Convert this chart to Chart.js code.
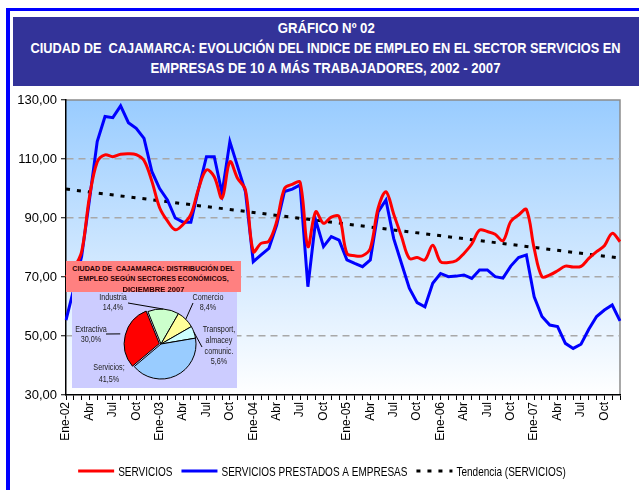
<!DOCTYPE html>
<html>
<head>
<meta charset="utf-8">
<script src="https://cdn.jsdelivr.net/npm/chart.js@4.4.0/dist/chart.umd.min.js"></script>
<style>
body{margin:0;background:#fff;width:639px;height:490px;overflow:hidden;position:relative;font-family:"Liberation Sans",Arial,sans-serif}
#frameTop{position:absolute;left:6px;top:8px;width:633px;height:3px;background:#0000ff}
#frameLeft{position:absolute;left:6px;top:8px;width:4px;height:482px;background:#0000ff}
#banner{position:absolute;left:13px;top:17px;width:626px;height:69px;padding-top:1px;box-sizing:border-box;background:#333399;color:#fff;
  font:bold 15px "Liberation Sans",Arial,sans-serif;line-height:20px}
#banner div, #insetTitle div{white-space:nowrap;display:flex;justify-content:center}
#banner span, #insetTitle span{display:inline-block;flex:none;transform-origin:50% 50%}
#main{position:absolute;left:0;top:0}
#insetTitle{position:absolute;left:66px;top:261px;width:175px;height:31px;background:#ff8080;color:#2a0000;
  font:bold 7px "Liberation Sans",Arial,sans-serif;line-height:10.3px;padding-top:3px;box-sizing:border-box}
#insetBox{position:absolute;left:72px;top:292px;width:165px;height:96px;background:#ccccff}
</style>
</head>
<body>
<div id="frameTop"></div>
<div id="frameLeft"></div>
<div id="banner">
  <div><span data-w="97">GRÁFICO Nº 02</span></div>
  <div><span data-w="590">CIUDAD DE&nbsp; CAJAMARCA: EVOLUCIÓN DEL INDICE DE EMPLEO EN EL SECTOR SERVICIOS EN</span></div>
  <div><span data-w="350">EMPRESAS DE 10 A MÁS TRABAJADORES, 2002 - 2007</span></div>
</div>
<canvas id="main" width="639" height="490"></canvas>
<div id="insetTitle">
  <div><span data-w="162">CIUDAD DE&nbsp; CAJAMARCA: DISTRIBUCIÓN DEL</span></div>
  <div><span data-w="150">EMPLEO SEGÚN SECTORES ECONÓMICOS,</span></div>
  <div><span data-w="62">DICIEMBRE 2007</span></div>
</div>
<div id="insetBox"><canvas id="pie" width="165" height="96"></canvas></div>
<script>
// meses y años del eje
const months = ['Ene','Feb','Mar','Abr','May','Jun','Jul','Ago','Set','Oct','Nov','Dic'];
const years = ['02','03','04','05','06','07'];

// indice de empleo, sector servicios
const servicios = [
  70, 73, 78.5, 97, 109, 111.4, 110.8, 111.6, 111.8, 111.5, 109.5, 102.5,
  93.5, 89, 86, 87.8, 91.2, 100, 106.3, 104, 96.7, 109.1, 103.4, 99.5,
  78.6, 81.4, 82.2, 88.8, 100, 101.4, 102.1, 80.3, 92.1, 88.2, 90.3, 90.5,
  78, 77.2, 77.2, 79.7, 93.3, 98.9, 91.3, 83.7, 76.3, 76.6, 75.8, 80.8,
  75.2, 74.9, 75.5, 78, 81.2, 85.9, 85.4, 84.5, 82.3, 88.8, 91, 92.9,
  79.7, 70.1, 70.7, 72.1, 73.7, 73.4, 73.6, 76.3, 78.6, 80.6, 84.8, 82
];
// servicios prestados a empresas
const prestados = [
  55.4, 66, 77, 96, 115.9, 124.4, 124, 128, 122.3, 120.4, 117, 105.8,
  100, 96.1, 90, 88.6, 88.6, 100, 110.8, 110.8, 98.4, 115.9, 107.4, 98.9,
  75.2, 77.5, 79.7, 87.6, 99, 99.8, 101.2, 66.7, 89.3, 80.3, 83.7, 82.5,
  75.8, 74.6, 73.5, 75.8, 92.1, 96.1, 83, 74.6, 66.2, 61.3, 59.9, 67.9,
  71.2, 70.1, 70.3, 70.7, 69.5, 72.4, 72.4, 70.1, 69.6, 73.7, 76.6, 77.5,
  63.3, 56.6, 53.7, 53.2, 47.5, 45.8, 47.2, 52.3, 56.6, 58.8, 60.5, 55.1
];
// tendencia lineal (extremos)
const trendStart = 99.8;
const trendEnd = 76.4;

const yTicks = [30, 50, 70, 90, 110, 130];

// pie: distribucion dic 2007
const sectors = ['Industria', 'Comercio', 'Transport, almacey comunic.', 'Servicios;', 'Extractiva'];
const shares = [14.4, 8.4, 5.6, 41.5, 30.0];
const sectorColors = ['#ccffcc', '#ffff99', '#ccffff', '#99ccff', '#ff0000'];

// comprimir textos al ancho del original (no hay fuente narrow)
document.querySelectorAll('[data-w]').forEach(el => {
  const w = el.getBoundingClientRect().width;
  el.style.transform = 'scaleX(' + (parseFloat(el.dataset.w) / w) + ')';
});

const labels = [];
years.forEach(y => months.forEach((m, i) => labels.push(i === 0 ? m + '-' + y : m)));

const trend = labels.map(() => null);
trend[0] = trendStart;
trend[trend.length - 1] = trendEnd;

const arial = '"Liberation Sans",Arial,sans-serif';

const plotBg = {
  id: 'plotBg',
  beforeDraw(chart) {
    const {ctx, chartArea: a} = chart;
    const g = ctx.createLinearGradient(0, a.top, 0, a.bottom);
    g.addColorStop(0, '#99ccff');
    g.addColorStop(1, '#ffffff');
    ctx.save();
    ctx.fillStyle = g;
    ctx.fillRect(a.left, a.top, a.right - a.left, a.bottom - a.top);
    ctx.strokeStyle = '#8c8c8c';
    ctx.lineWidth = 1.5;
    ctx.beginPath();
    ctx.moveTo(a.left, a.top);
    ctx.lineTo(a.right, a.top);
    ctx.lineTo(a.right, a.bottom);
    ctx.stroke();
    ctx.restore();
  }
};

// leyenda propia: texto comprimido como Arial Narrow
const narrowLegend = {
  id: 'narrowLegend',
  afterDraw(chart) {
    const {ctx} = chart;
    const sx = 0.77, lineLen = 36, gap = 4, itemGap = 9;
    const y = 471;
    ctx.save();
    ctx.font = '13px ' + arial;
    ctx.textBaseline = 'middle';
    const items = chart.data.datasets.map(ds => ({ds, w: ctx.measureText(ds.label).width * sx}));
    const total = items.reduce((s, it) => s + lineLen + gap + it.w, 0) + itemGap * (items.length - 1);
    let x = 322 - total / 2;
    items.forEach(({ds, w}) => {
      ctx.strokeStyle = ds.borderColor;
      ctx.lineWidth = ds.borderWidth;
      ctx.setLineDash(ds.borderDash || []);
      ctx.beginPath();
      ctx.moveTo(x, y);
      ctx.lineTo(x + lineLen, y);
      ctx.stroke();
      x += lineLen + gap;
      ctx.save();
      ctx.translate(x, y);
      ctx.scale(sx, 1);
      ctx.fillStyle = '#000';
      ctx.fillText(ds.label, 0, 1);
      ctx.restore();
      x += w + itemGap;
    });
    ctx.restore();
  }
};

new Chart(document.getElementById('main'), {
  type: 'line',
  data: {
    labels: labels,
    datasets: [
      {label: 'SERVICIOS', data: servicios, borderColor: '#ff0000',
       borderWidth: 3, pointRadius: 0, tension: 0.35},
      {label: 'SERVICIOS PRESTADOS A EMPRESAS', data: prestados, borderColor: '#0000ff',
       borderWidth: 3, pointRadius: 0, tension: 0},
      {label: 'Tendencia (SERVICIOS)', data: trend, borderColor: '#000',
       borderWidth: 3, borderDash: [4, 7], pointRadius: 0, spanGaps: true}
    ]
  },
  options: {
    responsive: false,
    animation: false,
    layout: {padding: {left: 8, right: 19, top: 100, bottom: 37}},
    plugins: {
      tooltip: {enabled: false},
      legend: {display: false}
    },
    scales: {
      x: {
        grid: {drawOnChartArea: false, tickLength: 5, tickColor: '#000'},
        border: {color: '#000', width: 1.5},
        ticks: {
          autoSkip: false, maxRotation: 90, minRotation: 90, color: '#000', padding: 2,
          font: {family: arial, size: 12},
          callback: (v, i) => i % 3 === 0 ? labels[i] : ''
        },
        afterFit(s) { s.height = 58; }
      },
      y: {
        min: 30, max: 130,
        afterBuildTicks(s) { s.ticks = yTicks.map(v => ({value: v})); },
        ticks: {color: '#000', padding: 4, font: {family: arial, size: 13},
                callback: v => v.toFixed(2).replace('.', ',')},
        grid: {
          color: c => (c.tick.value === 30 || c.tick.value === 130) ? 'rgba(0,0,0,0)' : '#a8a8a8',
          lineWidth: 1.5, tickLength: 5, tickColor: '#000', tickWidth: 1
        },
        border: {color: '#000', width: 1.5, dash: [7, 5]},
        afterFit(s) { s.width = 58; }
      }
    }
  },
  plugins: [plotBg, narrowLegend]
});

// posiciones de rotulos del pie respecto al centro
const pieLabelLayout = [
  {x: -48, y: -46, step: 10, anchor: [-33, -41]},
  {x: 47, y: -46, step: 10, anchor: [32, -41]},
  {x: 58, y: -14, step: 10.7, anchor: [41, 3]},
  {x: -52, y: 24, step: 12, anchor: null},
  {x: -70, y: -14, step: 10, anchor: [-55, -10]}
];

const pieLabels = {
  id: 'pieLabels',
  afterDatasetsDraw(chart) {
    const {ctx} = chart;
    const meta = chart.getDatasetMeta(0);
    ctx.save();
    ctx.font = '8.5px ' + arial;
    ctx.fillStyle = '#222';
    ctx.strokeStyle = '#000';
    ctx.lineWidth = 1;
    ctx.textBaseline = 'middle';
    meta.data.forEach((arc, i) => {
      const lay = pieLabelLayout[i];
      const cx = arc.x, cy = arc.y;
      if (lay.anchor) {
        const mid = (arc.startAngle + arc.endAngle) / 2;
        const r = arc.outerRadius + (arc.options.offset || 0);
        ctx.beginPath();
        ctx.moveTo(cx + Math.cos(mid) * r, cy + Math.sin(mid) * r);
        ctx.lineTo(cx + lay.anchor[0], cy + lay.anchor[1]);
        ctx.stroke();
      }
      const lines = i === 2 ? ['Transport,', 'almacey', 'comunic.'] : [sectors[i]];
      lines.push(shares[i].toFixed(1).replace('.', ',') + '%');
      lines.forEach((t, k) => {
        const w = ctx.measureText(t).width * 0.85;
        ctx.save();
        ctx.translate(cx + lay.x - w / 2, cy + lay.y + k * lay.step);
        ctx.scale(0.85, 1);
        ctx.fillText(t, 0, 0);
        ctx.restore();
      });
    });
    ctx.restore();
  }
};

new Chart(document.getElementById('pie'), {
  type: 'pie',
  data: {
    labels: sectors,
    datasets: [{data: shares, backgroundColor: sectorColors, borderColor: '#000', borderWidth: 1,
                offset: [0, 0, 0, 0, 7]}]
  },
  options: {
    responsive: false,
    animation: false,
    rotation: -22,
    radius: 35,
    layout: {padding: {left: 13, top: 8}},
    plugins: {legend: {display: false}, tooltip: {enabled: false}}
  },
  plugins: [pieLabels]
});
</script>
</body>
</html>
